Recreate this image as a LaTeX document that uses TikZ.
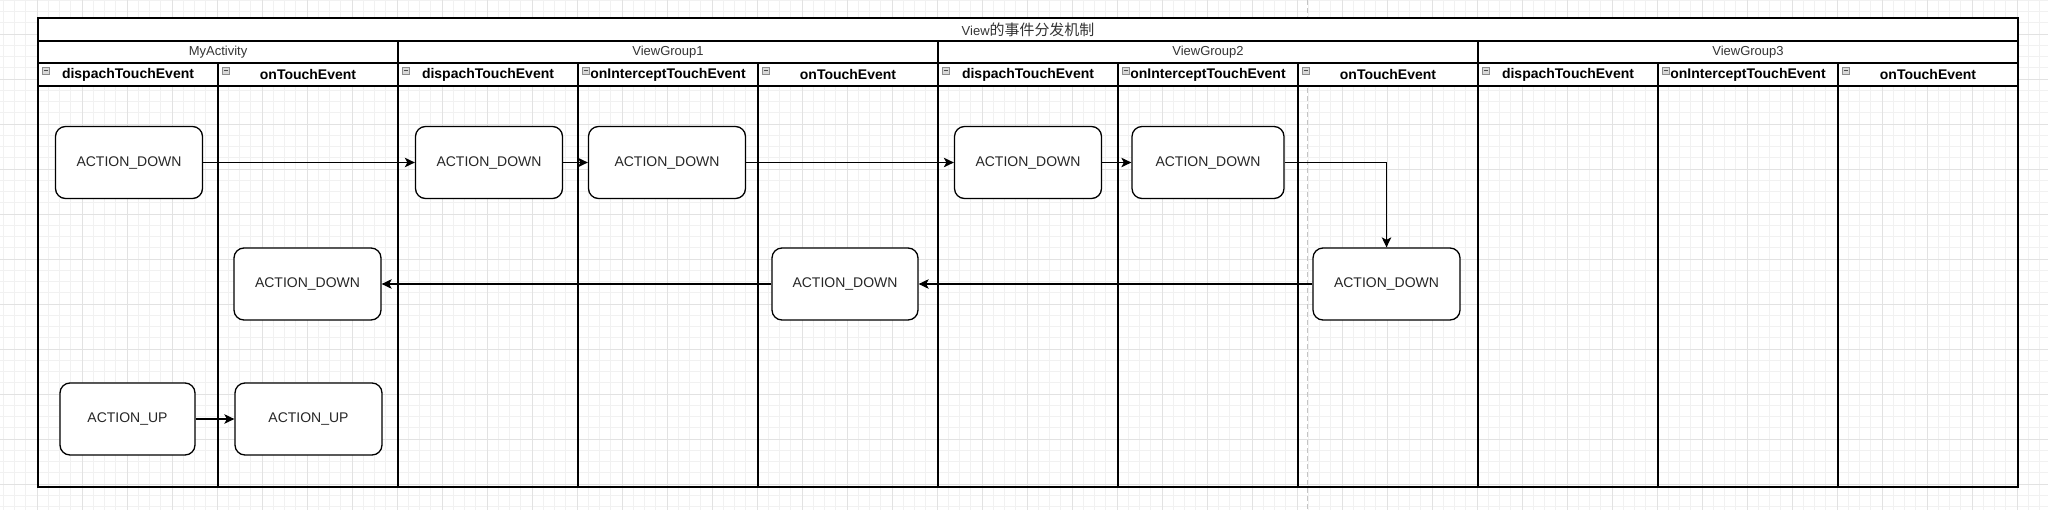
\documentclass[tikz,border=0pt]{standalone}
\usepackage{fontspec}
\setmainfont{Liberation Sans}
\newfontfamily\cjk[Scale=1.15]{Noto Sans CJK SC}
\usetikzlibrary{arrows.meta}

\definecolor{gridminor}{HTML}{F1F1F1}
\definecolor{gridmajor}{HTML}{E2E2E2}
\definecolor{pageline}{HTML}{C4C4C4}
\definecolor{labelgray}{HTML}{333333}

\begin{document}
\begin{tikzpicture}[x=1pt, y=-1pt,
       box/.style = {draw, fill=white, rounded corners=10pt, line width=1.3pt,
                     minimum width=#1, minimum height=72pt, inner sep=0pt,
                     font=\fontsize{14}{16}\selectfont, text=black!85},
     box/.default = 147pt,
  lanehead/.style = {fill=white, minimum width=180pt, minimum height=23pt,
                     inner sep=0pt, font=\fontsize{14}{16}\selectfont\bfseries,
                     path picture={
                       \draw[draw=black!45, fill=black!15, line width=0.6pt]
                         ([shift={(4.5pt,-4pt)}]path picture bounding box.north west)
                         rectangle ++(7pt,-7pt);
                       \draw[black!70, line width=1pt]
                         ([shift={(6pt,-7.5pt)}]path picture bounding box.north west)
                         -- ++(4pt,0pt);}},
  poolhead/.style = {fill=white, minimum width=#1, minimum height=22pt,
                     inner sep=0pt, font=\fontsize{13}{15}\selectfont,
                     text=labelgray},
     frame/.style = {line width=1.8pt},
every edge/.style = {draw, line width=1.3pt,
                     -{Stealth[length=10pt,width=9.5pt,inset=2.5pt]}}
                        ]
\useasboundingbox (0,0) rectangle (2048,509);
\fill[white] (0,0) rectangle (2048,509);
\begin{scope}
\clip (0,0) rectangle (2048,509);
\draw[gridminor, line width=0.8pt, xshift=3.25pt, yshift=-0.25pt, step=11.25pt]
    (-60,570) grid (2110,-60);
\draw[gridmajor, line width=0.8pt, xshift=37pt, yshift=11pt, step=45pt]
    (-60,570) grid (2110,-60);
\end{scope}
\draw[pageline, line width=1pt, dash pattern=on 5pt off 3pt] (1307.5,0) -- (1307.5,509);

\node (title) at (1028,29.5) [poolhead=1980pt] {View{\cjk 的事件分发机制}};
\node (act) at (218,52) [poolhead=360pt] {MyActivity};
\node (vg1) at (668,52) [poolhead=540pt] {ViewGroup1};
\node (vg2) at (1208,52) [poolhead=540pt] {ViewGroup2};
\node (vg3) at (1748,52) [poolhead=540pt] {ViewGroup3};

\node (act_d) at (128,74.5) [lanehead] {dispachTouchEvent};
\node (act_t) at (308,74.5) [lanehead] {onTouchEvent};
\node (vg1_d) at (488,74.5) [lanehead] {dispachTouchEvent};
\node (vg1_i) at (668,74.5) [lanehead] {onInterceptTouchEvent};
\node (vg1_t) at (848,74.5) [lanehead] {onTouchEvent};
\node (vg2_d) at (1028,74.5) [lanehead] {dispachTouchEvent};
\node (vg2_i) at (1208,74.5) [lanehead] {onInterceptTouchEvent};
\node (vg2_t) at (1388,74.5) [lanehead] {onTouchEvent};
\node (vg3_d) at (1568,74.5) [lanehead] {dispachTouchEvent};
\node (vg3_i) at (1748,74.5) [lanehead] {onInterceptTouchEvent};
\node (vg3_t) at (1928,74.5) [lanehead] {onTouchEvent};

%
\draw[frame] (38,18) rectangle (2018,487);
\draw[frame] (38,41) -- (2018,41)
             (38,63) -- (2018,63)
             (38,86) -- (2018,86);
\draw[frame] (398,41) -- (398,487)
             (938,41) -- (938,487)
             (1478,41) -- (1478,487);
\draw[frame] (218,63) -- (218,487)
             (578,63) -- (578,487)
             (758,63) -- (758,487)
             (1118,63) -- (1118,487)
             (1298,63) -- (1298,487)
             (1658,63) -- (1658,487)
             (1838,63) -- (1838,487);

\node (down1) at (129,162.5) [box] {ACTION\_DOWN};
\node (down2) at (489,162.5) [box] {ACTION\_DOWN};
\node (down3) at (667,162.5) [box=157pt] {ACTION\_DOWN};
\node (down4) at (1028,162.5) [box] {ACTION\_DOWN};
\node (down5) at (1208,162.5) [box=152pt] {ACTION\_DOWN};
\node (down6) at (1386.5,284) [box] {ACTION\_DOWN};
\node (down7) at (845,284) [box=146pt] {ACTION\_DOWN};
\node (down8) at (307.5,284) [box] {ACTION\_DOWN};
\node (up1) at (127.5,419) [box=135pt] {ACTION\_UP};
\node (up2) at (308.5,419) [box] {ACTION\_UP};

\path   (down1) edge (down2)
        (down2) edge (down3)
        (down3) edge (down4)
        (down4) edge (down5)
        (down5) edge[to path={-| (\tikztotarget)}] (down6)
        (down6) edge (down7)
        (down7) edge (down8)
        (up1) edge (up2);
\end{tikzpicture}
\end{document}
